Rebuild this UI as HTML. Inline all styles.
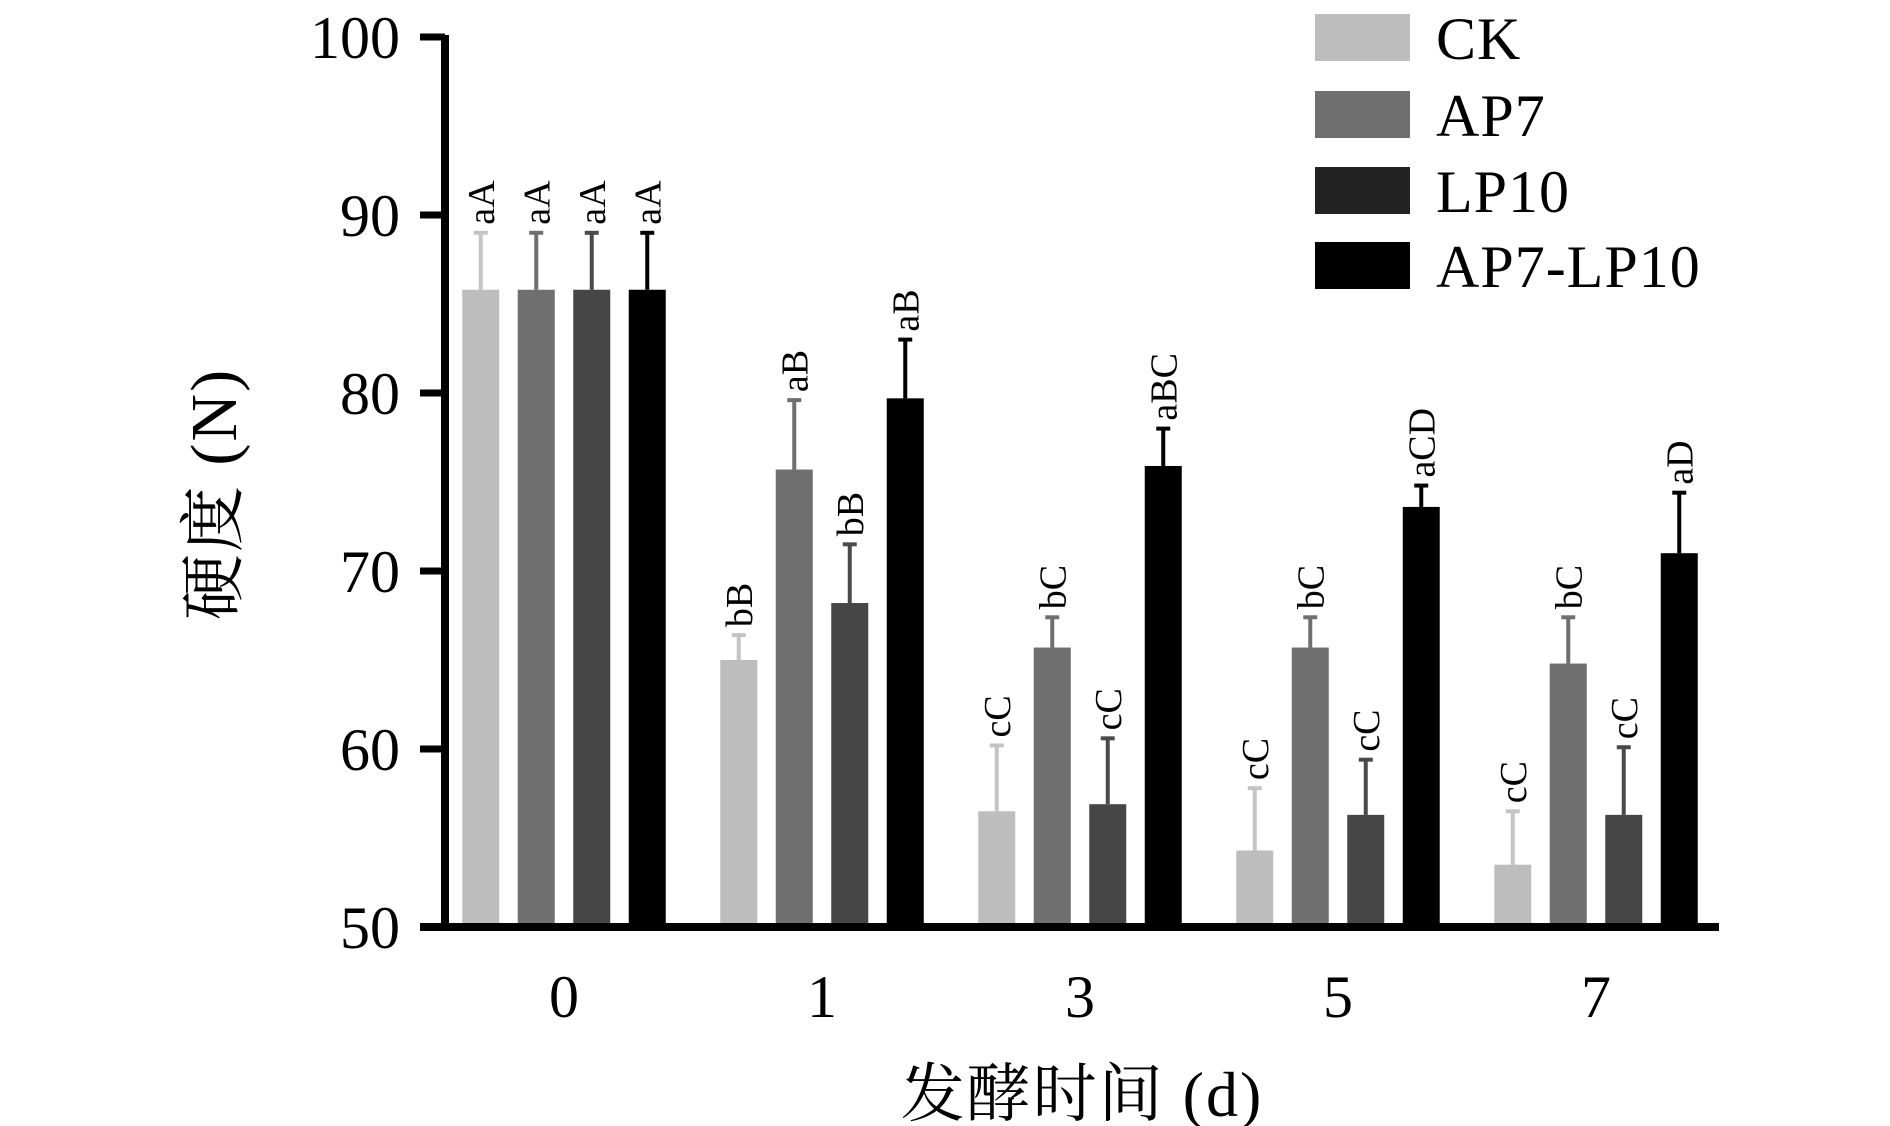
<!DOCTYPE html>
<html><head><meta charset="utf-8"><style>
body{margin:0;background:#fff;}
svg{display:block;}
text{font-family:"Liberation Serif","Times New Roman","Noto Serif CJK SC",serif;fill:#000;}
</style></head><body>
<svg id="chart" width="1890" height="1126" viewBox="0 0 1890 1126">
<g id="axes"></g><g id="bars"></g><g id="legend"></g>
</svg>
<script>
const categories = ["0","1","3","5","7"];
const seriesNames = ["CK","AP7","LP10","AP7-LP10"];
const ckValues = [85.8,65.0,56.5,54.3,53.5];
const ap7Values = [85.8,75.7,65.7,65.7,64.8];
const lp10Values = [85.8,68.2,56.9,56.3,56.3];
const ap7lp10Values = [85.8,79.7,75.9,73.6,71.0];
const ckErr = [3.2,1.4,3.7,3.5,3.0];
const ap7Err = [3.2,3.9,1.7,1.7,2.6];
const lp10Err = [3.2,3.3,3.7,3.1,3.8];
const ap7lp10Err = [3.2,3.3,2.1,1.2,3.4];
const ckLabels = ["aA","bB","cC","cC","cC"];
const ap7Labels = ["aA","aB","bC","bC","bC"];
const lp10Labels = ["aA","bB","cC","cC","cC"];
const ap7lp10Labels = ["aA","aB","aBC","aCD","aD"];
const yTicks = [50,60,70,80,90,100];

const colors = ["#bdbdbd","#6f6f6f","#464646","#000000"];
const errColors = ["#c4c4c4","#6f6f6f","#4a4a4a","#000000"];
const legendColors = ["#bdbdbd","#6f6f6f","#222222","#000000"];
const values = [ckValues,ap7Values,lp10Values,ap7lp10Values];
const errs = [ckErr,ap7Err,lp10Err,ap7lp10Err];
const labels = [ckLabels,ap7Labels,lp10Labels,ap7lp10Labels];

const NS="http://www.w3.org/2000/svg";
function mk(tag,attrs,parent){const e=document.createElementNS(NS,tag);for(const k in attrs)e.setAttribute(k,attrs[k]);parent.appendChild(e);return e;}
const y0=927, yTop=37, vMin=50, vMax=100;
function yScale(v){return y0-(v-vMin)/(vMax-vMin)*(y0-yTop);}
const groupStart=564, groupStep=258, barW=37, barStep=55.5;
function xGroup(i){return groupStart+i*groupStep;}
function xBar(i,s){return xGroup(i)+(s-1.5)*barStep-barW/2;}

const axes=document.getElementById('axes');
let yAxis=mk('line',{x1:445,y1:yTop-2,x2:445,y2:931,stroke:'#000','stroke-width':8},axes);


let xAxis=mk('line',{x1:420,y1:y0,x2:1719,y2:y0,stroke:'#000','stroke-width':8},axes);


yTicks.forEach(t=>{
  const y=yScale(t);
  let tk=mk('line',{x1:420,y1:y,x2:445,y2:y,stroke:'#000','stroke-width':7},axes);
  
  
  let tl=mk('text',{x:400,y:y+21,'text-anchor':'end','font-size':60},axes);
  tl.textContent=t;
  
  
});
categories.forEach((c,i)=>{
  let tl=mk('text',{x:xGroup(i),y:1017,'text-anchor':'middle','font-size':60},axes);
  tl.textContent=c;
  
  
});
let yt=mk('text',{x:0,y:0,'text-anchor':'middle','font-size':66,'letter-spacing':2,transform:'translate(236,494) rotate(-90)'},axes);
yt.textContent='硬度 (N)';


let xt=mk('text',{x:1082,y:1116,'text-anchor':'middle','font-size':64,'letter-spacing':2},axes);
xt.textContent='发酵时间 (d)';



const bars=document.getElementById('bars');
values.forEach((arr,s)=>{
  arr.forEach((v,i)=>{
    const x=xBar(i,s), y=yScale(v);
    let r=mk('rect',{x:x,y:y,width:barW,height:y0-4-y,fill:colors[s]},bars);
    
    
    const cx=x+barW/2, ye=yScale(v+errs[s][i]);
    let el=mk('line',{x1:cx,y1:y,x2:cx,y2:ye,stroke:errColors[s],'stroke-width':4},bars);
    
    
    let cap=mk('line',{x1:cx-7,y1:ye,x2:cx+7,y2:ye,stroke:errColors[s],'stroke-width':4},bars);
    
    
    let lb=mk('text',{x:0,y:0,'font-size':38,'text-anchor':'start',transform:`translate(${cx+13},${ye-8}) rotate(-90)`},bars);
    lb.textContent=labels[s][i];
    
    
  });
});

const legend=document.getElementById('legend');
const legY=[14,91,167,242];
seriesNames.forEach((n,s)=>{
  let r=mk('rect',{x:1315,y:legY[s],width:95,height:47,fill:legendColors[s]},legend);
  
  
  let t=mk('text',{x:1436,y:legY[s]+45,'font-size':60,'letter-spacing':1},legend);
  t.textContent=n;
  
  
});
</script>
</body></html>
